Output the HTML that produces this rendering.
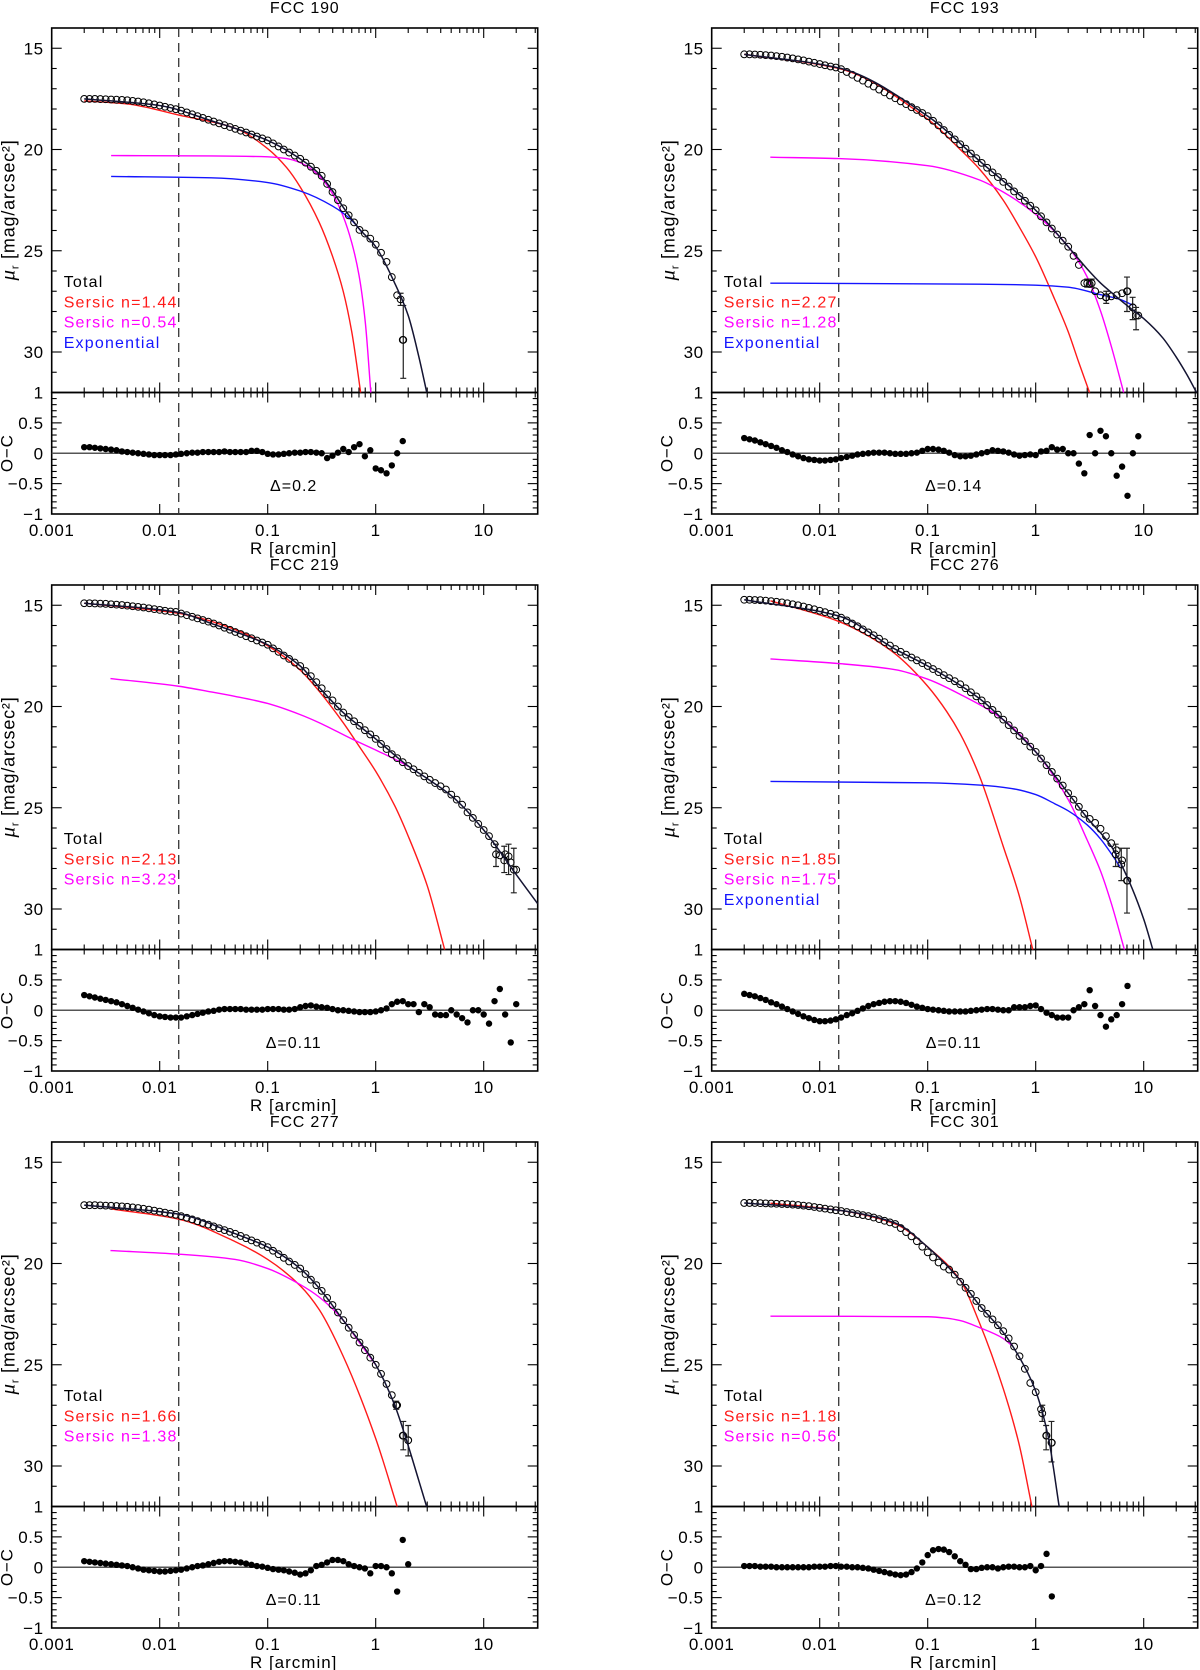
<!DOCTYPE html>
<html><head><meta charset="utf-8"><title>Surface brightness profiles</title>
<style>
html,body{margin:0;padding:0;background:#fff;}
svg{display:block;}
text{font-family:"Liberation Sans",sans-serif;fill:#000;}
</style></head>
<body>
<svg id="fig" xmlns="http://www.w3.org/2000/svg" width="1200" height="1670" viewBox="0 0 1200 1670"></svg>
<script>
// ---- shared radial grid (arcmin) ----
const gridR=[0.002,0.00224,0.00251,0.00282,0.00316,0.00355,0.00398,0.00447,0.00501,0.00562,
0.00631,0.00708,0.00794,0.00891,0.01,0.0112,0.0126,0.0141,0.0158,0.0178,
0.02,0.0224,0.0251,0.0282,0.0316,0.0355,0.0398,0.0447,0.0501,0.0562,
0.0631,0.0708,0.0794,0.0891,0.1,0.112,0.126,0.141,0.158,0.178,
0.2,0.224,0.251,0.282,0.316,0.355,0.398,0.447,0.501,0.562,
0.631,0.708,0.794,0.891,1.0,1.12,1.26,1.41,1.58,1.78,
2.0,2.24,2.51,2.82,3.16,3.55,3.98,4.47,5.01,5.62,
6.31,7.08,7.94,8.91,10,11.2,12.6,14.1,15.8,17.8,20];
const xTickLabels=["0.001","0.01","0.1","1","10"];
const muTickValues=[15,20,25,30];
const resTickValues=[1,0.5,0,-0.5,-1];
const resTickLabels=["1","0.5","0","\u22120.5","\u22121"];

// ---- FCC 190 ----
const p190_mu=[17.50,17.50,17.50,17.51,17.52,17.53,17.54,17.55,17.57,17.60,
17.63,17.67,17.72,17.77,17.83,17.89,17.95,18.01,18.08,18.17,
18.26,18.35,18.44,18.53,18.62,18.71,18.80,18.89,18.98,19.07,
19.16,19.26,19.36,19.45,19.55,19.70,19.85,20.00,20.15,20.30,
20.46,20.65,20.85,21.05,21.30,21.70,22.10,22.50,22.90,23.25,
23.60,23.97,24.15,24.40,24.70,25.10,25.55,26.30,27.20,29.40];
const p190_res=[0.10,0.10,0.09,0.08,0.07,0.06,0.05,0.03,0.02,0.01,
0.00,-0.01,-0.02,-0.03,-0.03,-0.03,-0.03,-0.02,-0.01,0.00,
0.01,0.01,0.02,0.02,0.02,0.02,0.03,0.02,0.02,0.02,
0.02,0.04,0.04,0.02,-0.01,-0.02,-0.02,-0.01,0.00,0.01,
0.01,0.02,0.02,0.01,0.00,-0.08,-0.04,0.01,0.07,0.02,
0.10,0.15,-0.05,0.05,-0.25,-0.28,-0.33,-0.20,0.00,0.20];
const p190_totR=[0.002,0.01,0.03,0.1,0.2,0.3,0.4,0.5,0.7,1.0,1.5,2.0,2.5,3.0];
const p190_totMu=[17.5,17.83,18.58,19.55,20.46,21.2,22.05,22.85,23.9,24.8,26.6,28.2,30.2,32.1];
const p190_s1R=[0.002,0.005,0.015,0.05,0.1,0.15,0.2,0.3,0.4,0.5,0.6,0.73];
const p190_s1Mu=[17.6,17.75,18.3,18.95,19.96,20.9,21.85,23.6,25.3,27.0,29.0,32.1];
const p190_s2R=[0.00355,0.03,0.1,0.15,0.2,0.3,0.4,0.5,0.6,0.7,0.8,0.904];
const p190_s2Mu=[20.3,20.32,20.36,20.45,20.65,21.3,22.2,23.3,24.6,26.2,28.5,32.1];
const p190_exR=[0.00355,0.03,0.1,0.2,0.4,0.6,0.75];
const p190_exMu=[21.33,21.4,21.63,22.05,22.8,23.5,24.1];
const p190_errR=[1.7,1.8];
const p190_errLo=[27.1,27.7];
const p190_errHi=[27.7,31.3];
const p190_errMu=[27.4,29.4];

// ---- FCC 193 ----
const p193_mu=[15.30,15.30,15.31,15.32,15.34,15.36,15.39,15.42,15.46,15.50,
15.55,15.60,15.66,15.72,15.78,15.84,15.90,15.95,16.03,16.17,
16.31,16.46,16.60,16.75,16.89,17.04,17.18,17.33,17.47,17.62,
17.76,17.91,18.05,18.20,18.35,18.58,18.81,19.04,19.27,19.50,
19.74,19.96,20.20,20.43,20.66,20.90,21.13,21.36,21.60,21.83,
22.07,22.30,22.53,22.77,23.00,23.30,23.60,23.90,24.20,24.50,
24.80,25.25,25.70,26.60,26.65,27.00,27.20,27.30,27.25,27.20,
27.10,27.00,27.80,28.20];
const p193_res=[0.25,0.23,0.21,0.18,0.15,0.12,0.09,0.05,0.02,-0.02,
-0.05,-0.08,-0.10,-0.11,-0.12,-0.12,-0.11,-0.10,-0.08,-0.06,
-0.04,-0.02,-0.01,0.00,0.01,0.01,0.01,0.00,-0.01,-0.01,
-0.01,0.00,0.01,0.04,0.07,0.07,0.06,0.04,0.01,-0.03,
-0.05,-0.05,-0.04,-0.02,0.00,0.02,0.05,0.04,0.03,0.01,
-0.02,-0.04,-0.03,-0.02,-0.03,0.03,0.04,0.10,0.06,0.07,
0.00,0.00,-0.17,-0.33,0.30,0.00,0.37,0.28,0.00,-0.37,
-0.22,-0.70,0.00,0.28];
const p193_totR=[0.002,0.015,0.1,0.3,1,2,3,4,5,7,10,15,20,25,31.6];
const p193_totMu=[15.3,15.97,18.35,20.55,23.0,24.8,25.9,26.6,27.05,27.7,28.35,29.3,30.25,31.1,32.1];
const p193_s1R=[0.002,0.015,0.1,0.2,0.3,0.5,0.7,1,1.5,2,2.5,3.2];
const p193_s1Mu=[15.3,16.0,18.5,20.0,20.95,22.5,23.8,25.3,27.4,29.0,30.5,32.1];
const p193_s2R=[0.00349,0.015,0.1,0.3,0.5,1,2,3,4,5,6.6];
const p193_s2Mu=[20.38,20.45,20.8,21.5,22.1,23.2,24.8,26.3,28.0,29.7,32.1];
const p193_exR=[0.00349,0.3,1,2,4,6,8];
const p193_exMu=[26.6,26.65,26.7,26.8,27.17,27.4,27.7];
const p193_errR=[3.0,3.3,4.5,7.0,7.9,8.5];
const p193_errLo=[26.4,26.4,27.0,26.3,27.3,27.8];
const p193_errHi=[26.8,26.8,27.6,28.0,28.4,28.9];
const p193_errMu=[26.6,26.6,27.3,27.0,27.8,28.2];

// ---- FCC 219 ----
const p219_mu=[14.90,14.90,14.91,14.92,14.93,14.95,14.97,14.99,15.02,15.05,
15.08,15.11,15.15,15.19,15.23,15.27,15.31,15.33,15.41,15.49,
15.57,15.65,15.73,15.81,15.90,16.00,16.11,16.21,16.32,16.42,
16.53,16.63,16.74,16.84,16.95,17.13,17.30,17.48,17.65,17.83,
18.00,18.25,18.50,18.80,19.10,19.40,19.70,20.00,20.30,20.52,
20.73,20.95,21.17,21.38,21.60,21.85,22.10,22.35,22.55,22.75,
22.94,23.10,23.27,23.45,23.62,23.78,23.94,24.10,24.35,24.60,
24.85,25.23,25.50,25.80,26.10,26.40,26.80,27.35,27.30,27.70,28.06];
const p219_res=[0.25,0.23,0.21,0.19,0.17,0.15,0.13,0.10,0.07,0.04,
0.01,-0.02,-0.05,-0.08,-0.10,-0.11,-0.12,-0.12,-0.12,-0.10,
-0.08,-0.06,-0.04,-0.02,-0.01,0.01,0.02,0.02,0.02,0.02,
0.01,0.01,0.01,0.01,0.02,0.02,0.02,0.01,0.01,0.02,
0.05,0.07,0.08,0.06,0.05,0.04,0.02,0.00,0.00,-0.01,
-0.02,-0.03,-0.03,-0.03,-0.02,0.00,0.03,0.10,0.14,0.15,
0.10,0.10,-0.03,0.10,0.05,-0.07,-0.08,-0.08,0.00,-0.07,
-0.13,-0.20,0.00,0.00,-0.07,-0.22,0.15,0.35,-0.07,-0.53,0.10];
const p219_totR=[0.002,0.015,0.03,0.1,0.2,0.3,0.5,1,2,3,5,10,20,31.6];
const p219_totMu=[14.9,15.35,15.9,16.95,18.0,19.06,20.3,21.6,22.94,23.56,24.4,26.1,28.3,29.74];
const p219_s1R=[0.002,0.015,0.05,0.1,0.2,0.3,0.5,0.7,1,1.5,2,3,4.4];
const p219_s1Mu=[14.9,15.4,16.2,17.0,18.2,19.25,20.8,21.95,23.2,24.9,26.4,28.85,32.1];
const p219_s2R=[0.0035,0.015,0.03,0.05,0.1,0.2,0.3,0.6,1,1.5,2];
const p219_s2Mu=[18.62,19.0,19.28,19.5,19.85,20.4,20.8,21.6,22.15,22.6,22.95];
const p219_errR=[13,15.5,17,19];
const p219_errLo=[26.8,26.9,26.8,27.0];
const p219_errHi=[27.9,28.2,28.3,29.2];
const p219_errMu=[27.3,27.6,27.4,28.06];

// ---- FCC 276 ----
const p276_mu=[14.73,14.73,14.74,14.75,14.77,14.80,14.83,14.86,14.90,14.95,
15.00,15.06,15.13,15.20,15.27,15.34,15.42,15.50,15.61,15.75,
15.90,16.04,16.19,16.34,16.48,16.65,16.82,16.99,17.16,17.30,
17.44,17.58,17.72,17.86,18.00,18.15,18.30,18.45,18.60,18.75,
18.90,19.10,19.30,19.50,19.70,19.93,20.17,20.40,20.65,20.92,
21.18,21.45,21.71,21.98,22.24,22.57,22.90,23.23,23.56,23.90,
24.28,24.60,24.95,25.30,25.55,25.75,26.04,26.40,26.75,27.10,
27.60,28.60];
const p276_res=[0.27,0.25,0.23,0.20,0.17,0.13,0.10,0.06,0.02,-0.02,
-0.06,-0.10,-0.13,-0.16,-0.18,-0.18,-0.17,-0.15,-0.12,-0.08,
-0.05,-0.01,0.03,0.07,0.10,0.12,0.14,0.15,0.15,0.14,
0.12,0.09,0.06,0.04,0.02,0.01,0.00,-0.01,-0.02,-0.02,
-0.02,-0.02,-0.01,0.00,0.01,0.02,0.02,0.01,0.00,0.00,
0.05,0.05,0.05,0.07,0.08,0.02,-0.04,-0.08,-0.12,-0.12,
-0.12,0.00,0.05,0.10,0.33,0.07,-0.08,-0.27,-0.15,-0.08,
0.10,0.40];
const p276_totR=[0.002,0.015,0.05,0.1,0.3,0.5,1,2,3,5,7,10,12.3];
const p276_totMu=[14.73,15.53,17.17,18.0,19.6,20.65,22.24,24.28,25.5,26.9,28.4,30.5,32.1];
const p276_s1R=[0.0035,0.015,0.03,0.05,0.1,0.15,0.2,0.3,0.5,0.7,0.95];
const p276_s1Mu=[14.78,15.8,16.6,17.4,19.0,20.25,21.35,23.4,26.9,29.3,32.1];
const p276_s2R=[0.0035,0.015,0.05,0.1,0.2,0.5,1,2,3,4,5,6.7];
const p276_s2Mu=[17.65,17.88,18.18,18.65,19.4,20.65,22.24,24.6,26.6,28.15,29.7,32.1];
const p276_exR=[0.0035,0.1,0.3,0.6,1,1.5,2,3,4,5,6];
const p276_exMu=[23.7,23.77,23.88,24.05,24.35,24.8,25.15,25.85,26.55,27.26,27.9];
const p276_errR=[5.5,6.2,7.0];
const p276_errLo=[26.8,27.0,27.0];
const p276_errHi=[27.9,28.6,30.2];
const p276_errMu=[27.3,27.8,28.6];

// ---- FCC 277 ----
const p277_mu=[17.12,17.12,17.12,17.13,17.14,17.15,17.16,17.18,17.20,17.23,
17.26,17.30,17.34,17.39,17.44,17.49,17.54,17.59,17.66,17.74,
17.82,17.91,18.00,18.08,18.17,18.26,18.35,18.44,18.53,18.64,
18.75,18.86,18.97,19.08,19.19,19.37,19.54,19.72,19.90,20.07,
20.25,20.52,20.80,21.07,21.35,21.70,22.05,22.42,22.80,23.17,
23.53,23.90,24.28,24.65,25.00,25.45,25.95,26.50,27.00,28.50,28.73];
const p277_res=[0.10,0.09,0.08,0.07,0.06,0.05,0.04,0.03,0.02,0.00,
-0.02,-0.04,-0.05,-0.06,-0.07,-0.07,-0.06,-0.05,-0.04,-0.02,
0.00,0.02,0.03,0.05,0.07,0.09,0.10,0.10,0.09,0.08,
0.06,0.04,0.02,0.01,-0.01,-0.03,-0.04,-0.05,-0.07,-0.09,
-0.12,-0.10,-0.05,0.02,0.04,0.08,0.12,0.12,0.10,0.05,
0.02,0.00,-0.02,-0.10,0.02,0.02,0.00,-0.10,-0.40,0.45,0.05];
const p277_totR=[0.002,0.015,0.05,0.1,0.2,0.3,0.5,1,1.5,2,2.5,3.0];
const p277_totMu=[17.12,17.56,18.53,19.19,20.25,21.22,22.8,25.0,27.0,29.0,30.7,32.1];
const p277_s1R=[0.0035,0.015,0.05,0.1,0.2,0.3,0.5,1,1.6];
const p277_s1Mu=[17.3,17.81,18.92,19.8,21.1,22.28,24.58,28.64,32.1];
const p277_s2R=[0.0035,0.015,0.05,0.1,0.2,0.3,0.5,0.7,1];
const p277_s2Mu=[19.36,19.54,19.8,20.25,21.04,21.66,22.8,23.87,25.0];
const p277_errR=[1.55,1.8,2.0];
const p277_errLo=[26.8,27.8,28.0];
const p277_errHi=[27.2,29.2,29.5];
const p277_errMu=[27.0,28.5,28.73];

// ---- FCC 301 ----
const p301_mu=[17.01,17.01,17.01,17.02,17.03,17.04,17.05,17.06,17.07,17.09,
17.11,17.14,17.17,17.21,17.25,17.29,17.33,17.37,17.41,17.46,
17.51,17.56,17.61,17.66,17.73,17.81,17.89,17.97,18.05,18.25,
18.45,18.66,18.90,19.17,19.45,19.70,19.95,20.15,20.30,20.55,
20.90,21.20,21.50,21.85,22.20,22.48,22.76,23.05,23.34,23.70,
24.10,24.58,25.20,25.90,26.35,27.20,28.50,28.85];
const p301_res=[0.02,0.02,0.02,0.01,0.01,0.01,0.00,0.00,0.00,0.00,
0.00,0.00,0.00,0.01,0.01,0.01,0.02,0.02,0.01,0.01,
0.00,0.00,-0.01,-0.02,-0.04,-0.06,-0.08,-0.10,-0.12,-0.13,
-0.12,-0.08,-0.02,0.08,0.20,0.28,0.30,0.29,0.25,0.18,
0.10,0.04,-0.03,-0.03,-0.01,0.00,0.00,-0.02,0.00,0.01,
0.01,0.00,0.00,0.02,-0.05,0.02,0.22,-0.48];
const p301_totR=[0.002,0.015,0.05,0.1,0.2,0.3,0.5,0.7,1.0,1.3,1.66];
const p301_totMu=[17.01,17.37,18.0,19.19,20.83,22.05,23.4,24.6,26.3,28.5,32.1];
const p301_s1R=[0.0035,0.015,0.05,0.1,0.2,0.3,0.5,0.7,0.93];
const p301_s1Mu=[17.02,17.37,18.05,19.19,20.83,22.9,26.17,28.9,32.1];
const p301_s2R=[0.0035,0.1,0.15,0.2,0.3,0.5,0.6];
const p301_s2Mu=[22.6,22.63,22.7,22.82,23.16,23.7,24.05];
const p301_errR=[1.15,1.25,1.4];
const p301_errLo=[27.0,28.0,27.8];
const p301_errHi=[27.8,29.2,29.8];
const p301_errMu=[27.4,28.5,28.85];

const RED="#ff1a1a", MAG="#ff00ff", BLUE="#1515ff", TOT="#141432";
const NS="http://www.w3.org/2000/svg";
const svg=document.getElementById('fig');

const panels=[
 {id:"fcc-190",title:"FCC  190",col:0,row:0,mu:p190_mu,res:p190_res,tot:[p190_totR,p190_totMu],
  comps:[[p190_s1R,p190_s1Mu,RED,"sersic-inner-curve"],[p190_s2R,p190_s2Mu,MAG,"sersic-outer-curve"],[p190_exR,p190_exMu,BLUE,"exponential-curve"]],
  err:[p190_errR,p190_errLo,p190_errHi,p190_errMu],
  legend:[["Total","#000"],["Sersic  n=1.44",RED],["Sersic  n=0.54",MAG],["Exponential",BLUE]],delta:"\u0394=0.2"},
 {id:"fcc-193",title:"FCC  193",col:1,row:0,mu:p193_mu,res:p193_res,tot:[p193_totR,p193_totMu],
  comps:[[p193_s1R,p193_s1Mu,RED,"sersic-inner-curve"],[p193_s2R,p193_s2Mu,MAG,"sersic-outer-curve"],[p193_exR,p193_exMu,BLUE,"exponential-curve"]],
  err:[p193_errR,p193_errLo,p193_errHi,p193_errMu],
  legend:[["Total","#000"],["Sersic  n=2.27",RED],["Sersic  n=1.28",MAG],["Exponential",BLUE]],delta:"\u0394=0.14"},
 {id:"fcc-219",title:"FCC  219",col:0,row:1,mu:p219_mu,res:p219_res,tot:[p219_totR,p219_totMu],
  comps:[[p219_s1R,p219_s1Mu,RED,"sersic-inner-curve"],[p219_s2R,p219_s2Mu,MAG,"sersic-outer-curve"]],
  err:[p219_errR,p219_errLo,p219_errHi,p219_errMu],
  legend:[["Total","#000"],["Sersic  n=2.13",RED],["Sersic  n=3.23",MAG]],delta:"\u0394=0.11"},
 {id:"fcc-276",title:"FCC  276",col:1,row:1,mu:p276_mu,res:p276_res,tot:[p276_totR,p276_totMu],
  comps:[[p276_s1R,p276_s1Mu,RED,"sersic-inner-curve"],[p276_s2R,p276_s2Mu,MAG,"sersic-outer-curve"],[p276_exR,p276_exMu,BLUE,"exponential-curve"]],
  err:[p276_errR,p276_errLo,p276_errHi,p276_errMu],
  legend:[["Total","#000"],["Sersic  n=1.85",RED],["Sersic  n=1.75",MAG],["Exponential",BLUE]],delta:"\u0394=0.11"},
 {id:"fcc-277",title:"FCC  277",col:0,row:2,mu:p277_mu,res:p277_res,tot:[p277_totR,p277_totMu],
  comps:[[p277_s1R,p277_s1Mu,RED,"sersic-inner-curve"],[p277_s2R,p277_s2Mu,MAG,"sersic-outer-curve"]],
  err:[p277_errR,p277_errLo,p277_errHi,p277_errMu],
  legend:[["Total","#000"],["Sersic  n=1.66",RED],["Sersic  n=1.38",MAG]],delta:"\u0394=0.11"},
 {id:"fcc-301",title:"FCC  301",col:1,row:2,mu:p301_mu,res:p301_res,tot:[p301_totR,p301_totMu],
  comps:[[p301_s1R,p301_s1Mu,RED,"sersic-inner-curve"],[p301_s2R,p301_s2Mu,MAG,"sersic-outer-curve"]],
  err:[p301_errR,p301_errLo,p301_errHi,p301_errMu],
  legend:[["Total","#000"],["Sersic  n=1.18",RED],["Sersic  n=0.56",MAG]],delta:"\u0394=0.12"}
];

const X0S=[51.7,711.7], TOPS=[28,585,1142], DEC=108, W=486, UH=364.5, RH=121.5;
function el(tag,attrs,parent){const e=document.createElementNS(NS,tag);for(const k in attrs)e.setAttribute(k,attrs[k]);(parent||svg).appendChild(e);return e;}

// monotone cubic (Fritsch-Carlson) through pixel points with increasing x
function monoPath(pts){
  const n=pts.length;
  if(n<2)return '';
  const dx=[],s=[];
  for(let i=0;i<n-1;i++){dx.push(pts[i+1][0]-pts[i][0]);s.push((pts[i+1][1]-pts[i][1])/dx[i]);}
  const m=[s[0]];
  for(let i=1;i<n-1;i++){
    if(s[i-1]*s[i]<=0)m.push(0);
    else{const w1=2*dx[i]+dx[i-1],w2=dx[i]+2*dx[i-1];m.push((w1+w2)/(w1/s[i-1]+w2/s[i]));}
  }
  m.push(s[n-2]);
  let d='M'+pts[0][0].toFixed(2)+','+pts[0][1].toFixed(2);
  for(let i=0;i<n-1;i++){
    const h=dx[i]/3;
    d+=' C'+(pts[i][0]+h).toFixed(2)+','+(pts[i][1]+m[i]*h).toFixed(2)+' '+(pts[i+1][0]-h).toFixed(2)+','+(pts[i+1][1]-m[i+1]*h).toFixed(2)+' '+pts[i+1][0].toFixed(2)+','+pts[i+1][1].toFixed(2);
  }
  return d;
}

panels.forEach(function(p){
  const x0=X0S[p.col], top=TOPS[p.row];
  const xs=function(r){return x0+(Math.log10(r)+3)*DEC;};
  const ys=function(m){return top+(m-14)*(UH/18);};
  const yr=function(v){return top+UH+RH/2-v*(RH/2);};
  const g=el('g',{});
  
  

  const t=el('text',{x:x0+253,y:top-15,'font-size':16,'text-anchor':'middle','letter-spacing':'0.8','xml:space':'preserve'},g);
  t.textContent=p.title;
  
  

  const cid='clip-'+p.id;
  const cp=el('clipPath',{id:cid},g);
  el('rect',{x:x0,y:top,width:W,height:UH},cp);

  const tk=el('g',{stroke:'#000','stroke-width':1.1},g);
  
  
  for(let d=-3;d<=1;d++){for(let m=1;m<=9;m++){
    const r=m*Math.pow(10,d); if(r>31.7)continue;
    const x=xs(r), L=(m===1)?10:5;
    el('line',{x1:x,y1:top,x2:x,y2:top+L},tk);
    el('line',{x1:x,y1:top+UH,x2:x,y2:top+UH-L},tk);
    el('line',{x1:x,y1:top+UH,x2:x,y2:top+UH+L},tk);
    if(m===1) el('line',{x1:x,y1:top+UH+RH,x2:x,y2:top+UH+RH-L},tk);
  }}
  for(let m=15;m<=31;m++){
    const y=ys(m), L=(m%5===0)?10:5;
    el('line',{x1:x0,y1:y,x2:x0+L,y2:y},tk);
    el('line',{x1:x0+W,y1:y,x2:x0+W-L,y2:y},tk);
  }
  for(let i=-9;i<=9;i++){
    const v=i/10, y=yr(v), L=(i%5===0)?10:5;
    el('line',{x1:x0,y1:y,x2:x0+L,y2:y},tk);
    el('line',{x1:x0+W,y1:y,x2:x0+W-L,y2:y},tk);
  }

  const f1=el('rect',{x:x0,y:top,width:W,height:UH,fill:'none',stroke:'#000','stroke-width':1.6},g);
  
  
  const f2=el('rect',{x:x0,y:top+UH,width:W,height:RH,fill:'none',stroke:'#000','stroke-width':1.6},g);
  
  

  muTickValues.forEach(function(v){
    const tx=el('text',{x:x0-8,y:ys(v)+6,'font-size':17,'letter-spacing':'0.6','text-anchor':'end'},g);
    tx.textContent=String(v);
    
    
  });
  resTickValues.forEach(function(v,i){
    const tx=el('text',{x:x0-8,y:yr(v)+6,'font-size':17,'letter-spacing':'0.6','text-anchor':'end'},g);
    tx.textContent=resTickLabels[i];
    
    
  });
  xTickLabels.forEach(function(s,i){
    const tx=el('text',{x:xs(Math.pow(10,i-3)),y:top+UH+RH+22,'font-size':17,'letter-spacing':'0.6','text-anchor':'middle'},g);
    tx.textContent=s;
    
    
  });
  const xt=el('text',{x:x0+242,y:top+UH+RH+40,'font-size':17,'letter-spacing':'1','text-anchor':'middle','xml:space':'preserve'},g);
  xt.textContent='R [arcmin]';
  
  
  const yt=el('text',{x:0,y:0,'font-size':18,'letter-spacing':'0.8','text-anchor':'middle',transform:'translate('+(x0-37)+','+(top+182)+') rotate(-90)'},g);
  yt.innerHTML='<tspan font-style="italic" font-family="Liberation Serif, serif" font-size="21">\u03bc</tspan><tspan font-size="11" dy="4">r</tspan><tspan dy="-4"> [mag/arcsec\u00b2]</tspan>';
  
  
  const ot=el('text',{x:0,y:0,'font-size':17,'letter-spacing':'0.8','text-anchor':'middle',transform:'translate('+(x0-39)+','+(top+UH+RH/2)+') rotate(-90)'},g);
  ot.textContent='O\u2212C';
  
  

  const zl=el('line',{x1:x0,y1:yr(0),x2:x0+W,y2:yr(0),stroke:'#555','stroke-width':1.5},g);
  
  

  const dl=el('line',{x1:xs(0.015),y1:top,x2:xs(0.015),y2:top+UH+RH,stroke:'#333','stroke-width':1.3,'stroke-dasharray':'9,6'},g);
  
  

  function pathFor(R,M){
    return monoPath(R.map(function(r,i){return [xs(r),ys(M[i])];}));
  }
  const cg=el('g',{'clip-path':'url(#'+cid+')',fill:'none'},g);
  p.comps.forEach(function(c){
    const pa=el('path',{d:pathFor(c[0],c[1]),stroke:c[2],'stroke-width':1.4},cg);
    
    
  });

  const dg=el('g',{fill:'none',stroke:'#000','stroke-width':1},cg);
  
  
  p.mu.forEach(function(m,i){
    const c=el('circle',{cx:xs(gridR[i]).toFixed(2),cy:ys(m).toFixed(2),r:3.4},dg);
    
    
  });
  const E=p.err;
  E[0].forEach(function(r,i){
    const x=xs(r);
    const eb=el('path',{d:'M'+x+','+ys(E[1][i])+'V'+ys(E[2][i])+'M'+(x-3)+','+ys(E[1][i])+'h6M'+(x-3)+','+ys(E[2][i])+'h6',stroke:'#222','stroke-width':1.2,fill:'none'},cg);
    
    
    const c=el('circle',{cx:x,cy:ys(E[3][i]),r:3.4,fill:'none',stroke:'#000','stroke-width':1},cg);
    
    
  });
  const tp=el('path',{d:pathFor(p.tot[0],p.tot[1]),stroke:TOT,'stroke-width':1.5},cg);
  
  

  const rg=el('g',{fill:'#000'},g);
  
  
  p.res.forEach(function(v,i){
    const c=el('circle',{cx:xs(gridR[i]).toFixed(2),cy:yr(v).toFixed(2),r:3.2},rg);
    
    
  });

  p.legend.forEach(function(l,i){
    const tx=el('text',{x:x0+12,y:top+259+i*20.3,'font-size':16,fill:l[1],'letter-spacing':'1.2','xml:space':'preserve'},g);
    tx.style.fill=l[1];
    tx.textContent=l[0];
    
    
  });
  const dt=el('text',{x:x0+242,y:top+UH+RH-23,'font-size':16,'text-anchor':'middle','letter-spacing':'1'},g);
  dt.textContent=p.delta;
  
  
});
</script>
</body></html>
